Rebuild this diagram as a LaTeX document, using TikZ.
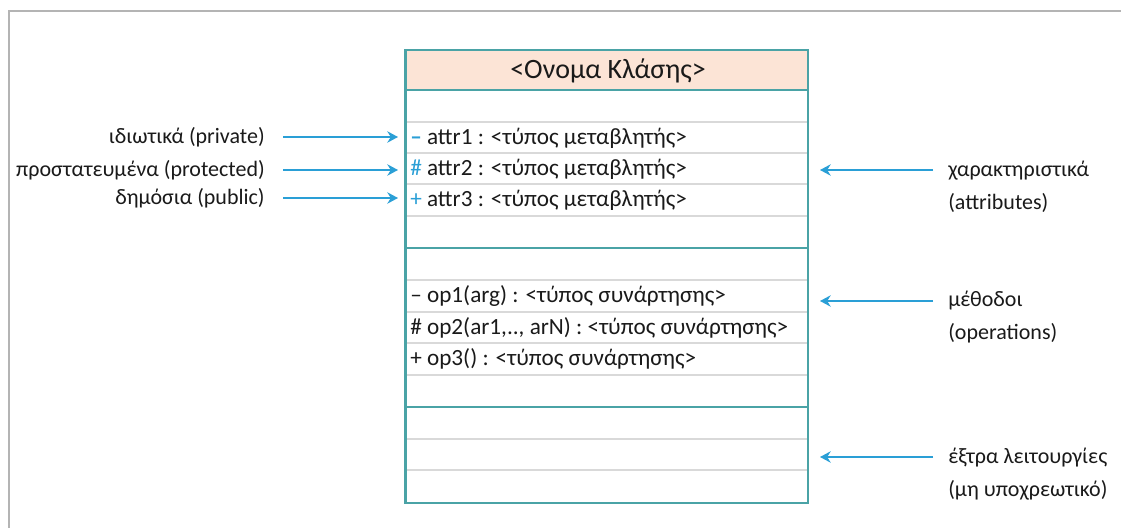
\documentclass[tikz,border=0pt]{standalone}
\usepackage{fontspec}
\setmainfont{Carlito}
\usetikzlibrary{arrows.meta}
\definecolor{frameGray}{HTML}{B4B4B4}
\definecolor{boxTeal}{HTML}{4AA3A6}
\definecolor{headFill}{HTML}{FCE4D6}
\definecolor{gridGray}{HTML}{D9D9D9}
\definecolor{arrowBlue}{HTML}{2A9FD6}
\definecolor{txt}{HTML}{1A1A1A}
\tikzset{
  pointer/.style={draw=arrowBlue, line width=2.2pt, -{Stealth[length=8pt,width=8.5pt]}},
  rowtext/.style={anchor=west, inner sep=0pt, font=\fontsize{17.4}{20}\selectfont, text=txt},
  lefttext/.style={anchor=east, inner sep=0pt, font=\fontsize{16.5}{19}\selectfont, text=txt},
  righttext/.style={anchor=north west, inner sep=0pt, align=left, font=\fontsize{16.5}{24.5}\selectfont, text=txt},
  gridline/.style={draw=gridGray, line width=0.8pt},
  sectionline/.style={draw=boxTeal, line width=2pt},
}
\newcommand{\mk}[1]{\textcolor{arrowBlue}{#1}}
\begin{document}
\begin{tikzpicture}[x=0.75pt, y=-0.75pt]
\useasboundingbox (0,0) rectangle (1121,528);
\fill[white] (0,0) rectangle (1121,528);
% outer frame
\draw[frameGray, line width=1.5pt] (8.5,540) -- (8.5,11.5) -- (1130,11.5);

% class box: header
\fill[headFill] (405.5,50) rectangle (808,90);
% grid rows
\foreach \y in {122,153,184,216,280,312,343,375,439,470}
  \draw[gridline] (405.5,\y) -- (808,\y);
% section separators
\draw[sectionline] (405.5,90) -- (808,90);
\draw[sectionline] (405.5,248) -- (808,248);
\draw[sectionline] (405.5,407) -- (808,407);
\draw[boxTeal, line width=2pt] (405.5,50) rectangle (808,503);

\node[inner sep=0pt, font=\fontsize{21}{24}\selectfont, text=txt] (title) at (608,71) {<Ονομα Κλάσης>};

% attributes
\node[rowtext] (a1) at (410,138) {\mk{\textbf{–}} attr1 : <τύπος μεταβλητής>};
\node[rowtext] (a2) at (410,169) {\mk{\#} attr2 : <τύπος μεταβλητής>};
\node[rowtext] (a3) at (410,200) {\mk{+} attr3 : <τύπος μεταβλητής>};

% operations
\node[rowtext] (o1) at (410,296) {– op1(arg) : <τύπος συνάρτησης>};
\node[rowtext] (o2) at (410,327.5) {\# op2(ar1,.., arN) : <τύπος συνάρτησης>};
\node[rowtext] (o3) at (410,359) {+ op3() : <τύπος συνάρτησης>};

% visibility labels
\node[lefttext] (lpriv) at (265,137) {ιδιωτικά (private)};
\node[lefttext] (lprot) at (265,170) {προστατευμένα (protected)};
\node[lefttext] (lpub)  at (265,198) {δημόσια (public)};
\coordinate (tpriv) at (398,137);
\coordinate (tprot) at (398,170);
\coordinate (tpub)  at (398,198);
\draw[pointer] ([xshift=13.5pt]lpriv.east) -- (tpriv);
\draw[pointer] ([xshift=13.5pt]lprot.east) -- (tprot);
\draw[pointer] ([xshift=13.5pt]lpub.east)  -- (tpub);

% compartment labels
\node[righttext] (rattr) at (948,161) {χαρακτηριστικά\\(attributes)};
\node[righttext] (rops)  at (948,291) {μέθοδοι\\(operations)};
\node[righttext] (rext)  at (948,448) {έξτρα λειτουργίες\\(μη υποχρεωτικό)};
\coordinate (sattr) at (933,170);
\coordinate (sops)  at (933,301);
\coordinate (sext)  at (933,457);
\coordinate (eattr) at (820,170);
\coordinate (eops)  at (820,301);
\coordinate (eext)  at (820,457);
\draw[pointer] (sattr) -- (eattr);
\draw[pointer] (sops) -- (eops);
\draw[pointer] (sext) -- (eext);
\end{tikzpicture}
\end{document}
